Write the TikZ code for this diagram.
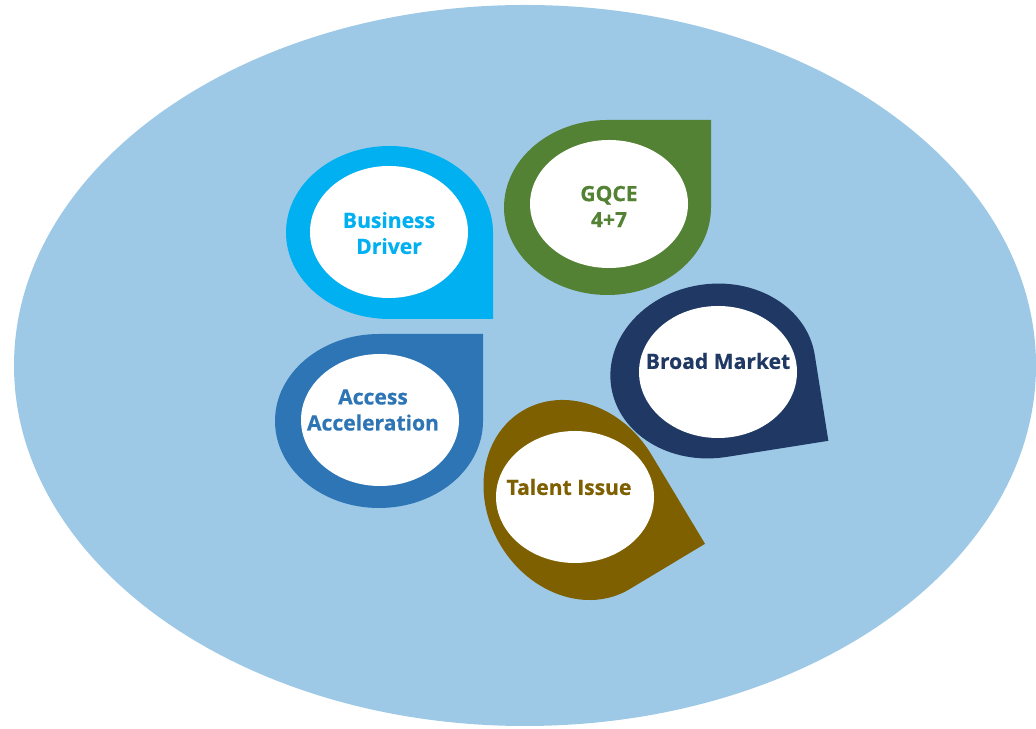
\documentclass[tikz,border=0pt]{standalone}
\usepackage{fontspec}
\setmainfont{Open Sans}
\newfontfamily\dropfont{Open Sans}[BoldFeatures={FakeBold=0.5}]
\usetikzlibrary{positioning}

\definecolor{skyback}{HTML}{9DC9E7}
\definecolor{bizcyan}{HTML}{00B0F0}
\definecolor{gqcegreen}{HTML}{548235}
\definecolor{accblue}{HTML}{2E75B6}
\definecolor{mktnavy}{HTML}{1F3864}
\definecolor{talbrown}{HTML}{7F6000}

\begin{document}
\begin{tikzpicture}[x=0.025cm, y=0.025cm,
  droptext/.style={font=\dropfont\fontsize{15}{18.5}\selectfont\bfseries, align=center}]
  \useasboundingbox (0,0) rectangle (1036,728);

  % Fondo
  \begin{scope}
    \clip (0,0) rectangle (1036,728);
    \fill[skyback] (525,362.5) ellipse[x radius=511, y radius=360.5];
  \end{scope}

  % Gota: Business Driver
  \begin{scope}[shift={(389.5,495.5)}]
    \fill[bizcyan] (103.5,0) arc[start angle=0, end angle=270, x radius=103.5, y radius=86.5] -- (103.5,-86.5) -- cycle;
  \end{scope}
  \fill[white] (389,496) ellipse[x radius=79, y radius=66];

  % Gota: GQCE
  \begin{scope}[shift={(607.5,520.5)}, yscale=-1]
    \fill[gqcegreen] (103.5,0) arc[start angle=0, end angle=270, x radius=103.5, y radius=87.5] -- (103.5,-87.5) -- cycle;
  \end{scope}
  \fill[white] (609,524) ellipse[x radius=79, y radius=64];

  % Gota: Access Acceleration
  \begin{scope}[shift={(379,307)}, yscale=-1]
    \fill[accblue] (104,0) arc[start angle=0, end angle=270, x radius=104, y radius=87] -- (104,-87) -- cycle;
  \end{scope}
  \fill[white] (380,308) ellipse[x radius=79, y radius=66];

  % Gota: Broad Market
  \begin{scope}[shift={(713,357)}, rotate=9]
    \fill[mktnavy] (103,0) arc[start angle=0, end angle=270, x radius=103, y radius=87] -- (103,-87) -- cycle;
  \end{scope}
  \fill[white] (718,356) ellipse[x radius=79, y radius=66];

  % Gota: Talent Issue
  \begin{scope}[shift={(576,228)}, rotate=31]
    \fill[talbrown] (88,0) arc[start angle=0, end angle=270, x radius=88, y radius=104] -- (88,-104) -- cycle;
  \end{scope}
  \fill[white] (575,231) ellipse[x radius=79, y radius=66];

  % Etiquetas
  \node[droptext, text=bizcyan] (business) at (389,495) {Business\\Driver};
  \node[droptext, text=gqcegreen] (gqce) at (609,521.5) {GQCE\\4+7};
  \node[droptext, text=accblue] (access) at (373,318) {Access\\Acceleration};
  \node[droptext, text=mktnavy] (market) at (718,367) {Broad Market};
  \node[droptext, text=talbrown] (talent) at (569,241) {Talent Issue};

\end{tikzpicture}
\end{document}
